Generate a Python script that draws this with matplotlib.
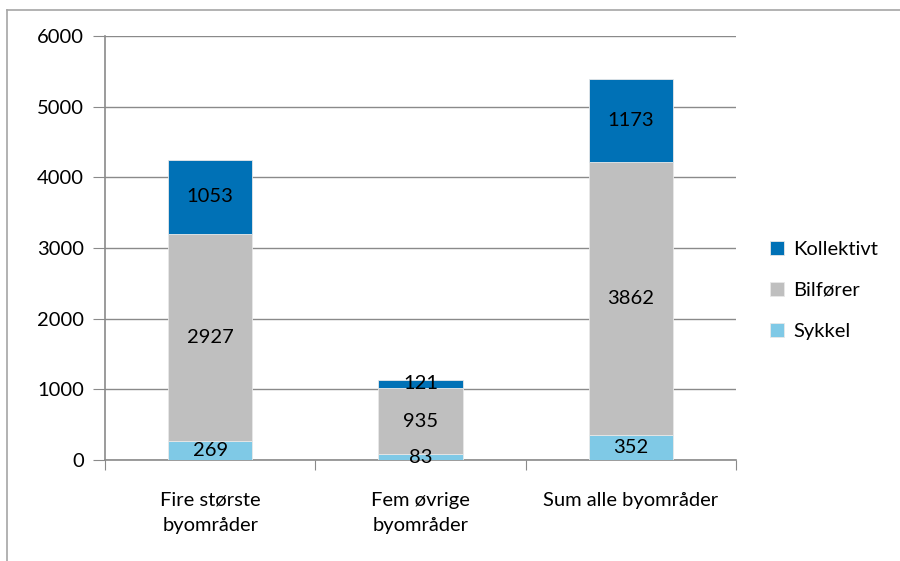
import matplotlib
matplotlib.use("Agg")
import matplotlib.pyplot as plt
from matplotlib.lines import Line2D

categories = ["Fire største\nbyområder", "Fem øvrige\nbyområder", "Sum alle byområder"]
sykkel = [269, 83, 352]
bilforer = [2927, 935, 3862]
kollektivt = [1053, 121, 1173]

series = [("Sykkel", sykkel, "#7FC9E6"),
          ("Bilfører", bilforer, "#BFBFBF"),
          ("Kollektivt", kollektivt, "#0071B6")]

plt.rcParams['font.family'] = ['Lato', 'DejaVu Sans']
grid_col = "#8A8A8A"
fs = 14.5

fig = plt.figure(figsize=(9, 5.61), dpi=100)
ax = fig.add_axes([105/900, 1 - 460/561, (736 - 105)/900, (460 - 36)/561])

x = list(range(len(categories)))
bottom = [0] * len(categories)
handles = []
for name, vals, col in series:
    bars = ax.bar(x, vals, width=0.4, bottom=bottom, color=col,
                  edgecolor="#E8E8E8", linewidth=0.6, label=name, zorder=3)
    for xi, v, b in zip(x, vals, bottom):
        ax.text(xi, b + v / 2, str(v), ha="center", va="center",
                fontsize=fs, color="black", zorder=4)
    bottom = [b + v for b, v in zip(bottom, vals)]
    handles.append(bars)

ax.set_xlim(-0.5, 2.5)
ax.set_ylim(0, 6000)
ax.set_yticks(range(0, 6001, 1000))
ax.yaxis.grid(True, color=grid_col, linewidth=1.0, zorder=0)
ax.tick_params(axis="y", length=9, color=grid_col, labelsize=fs, pad=6)

ax.set_xticks([-0.5, 0.5, 1.5, 2.5])
ax.set_xticklabels([])
ax.set_xticks(x, minor=True)
ax.set_xticklabels(categories, minor=True, fontsize=fs, linespacing=1.55)
ax.tick_params(axis="x", which="major", length=7, color=grid_col, direction="out")
ax.tick_params(axis="x", which="minor", length=0, pad=23)

for s in ["top", "right"]:
    ax.spines[s].set_visible(False)
for s in ["left", "bottom"]:
    ax.spines[s].set_color(grid_col)
    ax.spines[s].set_linewidth(1.2)

# legend, top entry first
leg = ax.legend(handles[::-1], [s[0] for s in series][::-1],
                loc="center left", bbox_to_anchor=(1.025, 0.40),
                frameon=False, fontsize=fs, handlelength=0.7, handleheight=0.7,
                handletextpad=0.45, labelspacing=1.2)

# outer chart frame (left and top edges visible)
frame_col = "#A6A6A6"
fig.add_artist(Line2D([7/900, 1], [1 - 10/561] * 2, color=frame_col, lw=1.2, transform=fig.transFigure))
fig.add_artist(Line2D([7/900] * 2, [0, 1 - 10/561], color=frame_col, lw=1.2, transform=fig.transFigure))

fig.savefig("out.png", dpi=100)
